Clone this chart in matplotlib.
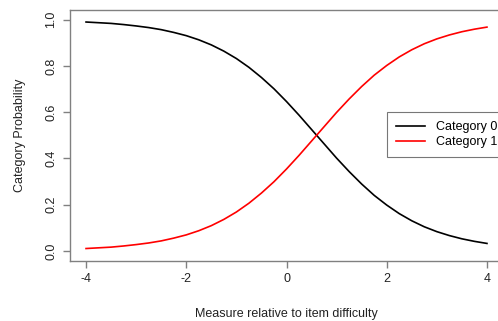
import matplotlib
matplotlib.use('Agg')
import matplotlib.pyplot as plt

plt.rcParams['font.family'] = ['Liberation Sans', 'DejaVu Sans']

# values
measure = [-4, -3.75, -3.5, -3.25, -3, -2.75, -2.5, -2.25, -2, -1.75, -1.5, -1.25,
           -1, -0.75, -0.5, -0.25, 0, 0.25, 0.5, 0.75, 1, 1.25, 1.5, 1.75,
           2, 2.25, 2.5, 2.75, 3, 3.25, 3.5, 3.75, 4]
cat1 = [0.010, 0.013, 0.016, 0.021, 0.027, 0.034, 0.043, 0.055, 0.069, 0.087, 0.109, 0.136,
        0.168, 0.206, 0.250, 0.299, 0.354, 0.413, 0.475, 0.537, 0.599, 0.657, 0.711, 0.760,
        0.802, 0.839, 0.870, 0.896, 0.917, 0.934, 0.948, 0.959, 0.968]
cat0 = [0.990, 0.987, 0.984, 0.979, 0.973, 0.966, 0.957, 0.945, 0.931, 0.913, 0.891, 0.864,
        0.832, 0.794, 0.750, 0.701, 0.646, 0.587, 0.525, 0.463, 0.401, 0.343, 0.289, 0.240,
        0.198, 0.161, 0.130, 0.104, 0.083, 0.066, 0.052, 0.041, 0.032]
labels = ['Category 0', 'Category 1']
xticks = [-4, -2, 0, 2, 4]
yticks = [0.0, 0.2, 0.4, 0.6, 0.8, 1.0]

W, H = 498, 321
fig = plt.figure(figsize=(W / 100, H / 100), dpi=100)
ax = fig.add_axes([70 / W, (H - 261) / H, 433 / W, 251 / H])

ax.plot(measure, cat0, color='black', lw=1.2, label=labels[0])
ax.plot(measure, cat1, color='red', lw=1.2, label=labels[1])

ax.set_xlim(-4.32, 4.32)
ax.set_ylim(-0.044, 1.042)
ax.set_xticks(xticks)
ax.set_xticklabels(['-4', '-2', '0', '2', '4'])
ax.set_yticks(yticks)
ax.set_yticklabels(['0.0', '0.2', '0.4', '0.6', '0.8', '1.0'], rotation=90, va='center')

for s in ax.spines.values():
    s.set_color('#808080')
    s.set_linewidth(1.0)
ax.tick_params(colors='#808080', labelcolor='#222222', labelsize=9, length=5, width=1.0, pad=4)

ax.set_xlabel('Measure relative to item difficulty', fontsize=9, color='#222222', labelpad=16)
ax.set_ylabel('Category Probability', fontsize=9, color='#222222', labelpad=14)

leg = ax.legend(loc='upper left', bbox_to_anchor=((387 - 70) / 433, 1 - (112 - 10) / 251),
                fontsize=9, frameon=True, fancybox=False, handlelength=2.3,
                borderpad=0.75, labelspacing=0.2, handletextpad=0.85, borderaxespad=0)
leg.get_frame().set_edgecolor('#555555')
leg.get_frame().set_linewidth(0.8)

fig.savefig('out.png', dpi=100)
